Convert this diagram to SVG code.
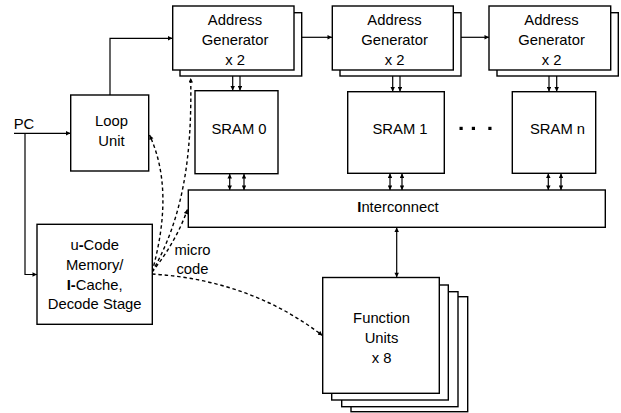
<svg xmlns="http://www.w3.org/2000/svg" width="621" height="413" viewBox="0 0 621 413">
  <style>
    .box { fill: #fff; stroke: #000; stroke-width: 1.4; }
    .wire { fill: none; stroke: #000; stroke-width: 1.2; }
    .dash { fill: none; stroke: #000; stroke-width: 1.4; stroke-dasharray: 3.5 2.8; }
    text { font-family: "Liberation Sans", Arial, Helvetica, sans-serif; font-size: 14.8px; fill: #000; text-anchor: middle; }
    .b { font-weight: bold; }
  </style>
  <defs>
    <marker id="ah" viewBox="0 0 10 10" refX="10" refY="5" markerUnits="userSpaceOnUse" markerWidth="5.5" markerHeight="4.5" orient="auto-start-reverse">
      <path d="M0,0 L10,5 L0,10 Z" fill="#000"/>
    </marker>
  </defs>
  <rect width="621" height="413" fill="#fff"/>

  <!-- connectors -->
  <g id="connectors">
    <!-- PC input splits to Loop Unit and u-Code memory -->
    <text x="24" y="128.5">PC</text>
    <path class="wire" d="M14,133.3 H70.5" marker-end="url(#ah)"/>
    <path class="wire" d="M25,133.3 V274.5 H37" marker-end="url(#ah)"/>
    <!-- Loop Unit to first address generator -->
    <path class="wire" d="M110,95 V38.3 H172.5" marker-end="url(#ah)"/>
    <!-- address generator chain -->
    <path class="wire" d="M301.7,37.3 H332" marker-end="url(#ah)"/>
    <path class="wire" d="M461,37.3 H489" marker-end="url(#ah)"/>
    <!-- address generators to SRAMs -->
    <path class="wire" d="M232.7,70 V90.5" marker-end="url(#ah)"/>
    <path class="wire" d="M240,76 V90.5" marker-end="url(#ah)"/>
    <path class="wire" d="M392.7,70 V91.5" marker-end="url(#ah)"/>
    <path class="wire" d="M400,76 V91.5" marker-end="url(#ah)"/>
    <path class="wire" d="M549,70 V91.5" marker-end="url(#ah)"/>
    <path class="wire" d="M556.7,76 V91.5" marker-end="url(#ah)"/>
    <!-- SRAMs to interconnect (bidirectional) -->
    <path class="wire" d="M229.7,174 V190" marker-start="url(#ah)" marker-end="url(#ah)"/>
    <path class="wire" d="M244,174 V190" marker-start="url(#ah)" marker-end="url(#ah)"/>
    <path class="wire" d="M390,173.5 V190" marker-start="url(#ah)" marker-end="url(#ah)"/>
    <path class="wire" d="M402,173.5 V190" marker-start="url(#ah)" marker-end="url(#ah)"/>
    <path class="wire" d="M548.3,173.5 V190" marker-start="url(#ah)" marker-end="url(#ah)"/>
    <path class="wire" d="M561,173.5 V190" marker-start="url(#ah)" marker-end="url(#ah)"/>
    <!-- interconnect to function units -->
    <path class="wire" d="M396.7,227.5 V277.3" marker-start="url(#ah)" marker-end="url(#ah)"/>
    <!-- micro code distribution -->
    <path class="dash" d="M152,272 Q175,190 149.5,135" marker-end="url(#ah)"/>
    <path class="dash" d="M152,272 C185,215 192,150 190.7,78" marker-end="url(#ah)"/>
    <path class="dash" d="M152,272 Q176,242 187.5,209.5" marker-end="url(#ah)"/>
    <path class="dash" d="M152,274 Q250,280 322.5,335.5" marker-end="url(#ah)"/>
  </g>

  <!-- ellipsis between SRAM 1 and SRAM n -->
  <g id="ellipsis" fill="#000">
    <rect x="459.5" y="126.8" width="3.2" height="3.2"/>
    <rect x="471.8" y="126.8" width="3.2" height="3.2"/>
    <rect x="488.3" y="126.8" width="3.2" height="3.2"/>
  </g>

  <g id="loop-unit">
    <rect class="box" x="70.7" y="95" width="78" height="76"/>
    <text x="111.5" y="126">Loop</text>
    <text x="111.5" y="146">Unit</text>
  </g>

  <g id="addr-gen-0">
    <rect class="box" x="180" y="12.7" width="121.7" height="63.3"/>
    <rect class="box" x="172.7" y="6" width="121.3" height="64"/>
    <text x="235" y="25">Address</text>
    <text x="235" y="45">Generator</text>
    <text x="235" y="64.5">x 2</text>
  </g>

  <g id="addr-gen-1">
    <rect class="box" x="340" y="12.7" width="121" height="63.3"/>
    <rect class="box" x="332.3" y="6" width="121" height="64"/>
    <text x="394.5" y="25">Address</text>
    <text x="394.5" y="45">Generator</text>
    <text x="394.5" y="64.5">x 2</text>
  </g>

  <g id="addr-gen-2">
    <rect class="box" x="497" y="12.7" width="121.3" height="63.3"/>
    <rect class="box" x="489" y="6" width="121.7" height="64"/>
    <text x="551.5" y="25">Address</text>
    <text x="551.5" y="45">Generator</text>
    <text x="551.5" y="64.5">x 2</text>
  </g>

  <g id="sram-0">
    <rect class="box" x="195" y="90.7" width="83" height="83"/>
    <text x="239" y="134">SRAM 0</text>
  </g>

  <g id="sram-1">
    <rect class="box" x="347.7" y="91.7" width="96.6" height="81.6"/>
    <text x="400" y="134">SRAM 1</text>
  </g>

  <g id="sram-n">
    <rect class="box" x="512.3" y="91.7" width="83.4" height="81.6"/>
    <text x="557.5" y="134">SRAM n</text>
  </g>

  <g id="interconnect">
    <rect class="box" x="188.3" y="190" width="417" height="37.3"/>
    <text x="398" y="212.3"><tspan class="b">I</tspan>nterconnect</text>
  </g>

  <g id="ucode-memory">
    <rect class="box" x="37" y="224.3" width="115.3" height="100"/>
    <text x="94.7" y="250">u<tspan class="b">-</tspan>Code</text>
    <text x="94.7" y="270">Memory/</text>
    <text x="94.7" y="290"><tspan class="b">I-</tspan>Cache,</text>
    <text x="94.7" y="309.3">Decode Stage</text>
  </g>

  <g id="micro-code-label">
    <text x="192.5" y="255">micro</text>
    <text x="192.5" y="274.3">code</text>
  </g>

  <g id="function-units">
    <rect class="box" x="351" y="296.7" width="116.7" height="115"/>
    <rect class="box" x="341.7" y="291.7" width="116.3" height="115"/>
    <rect class="box" x="331.7" y="285" width="116.6" height="115"/>
    <rect class="box" x="322.7" y="277.5" width="116.6" height="115.8"/>
    <text x="381.5" y="322.7">Function</text>
    <text x="381.5" y="342.7">Units</text>
    <text x="381.5" y="362.7">x 8</text>
  </g>
</svg>
